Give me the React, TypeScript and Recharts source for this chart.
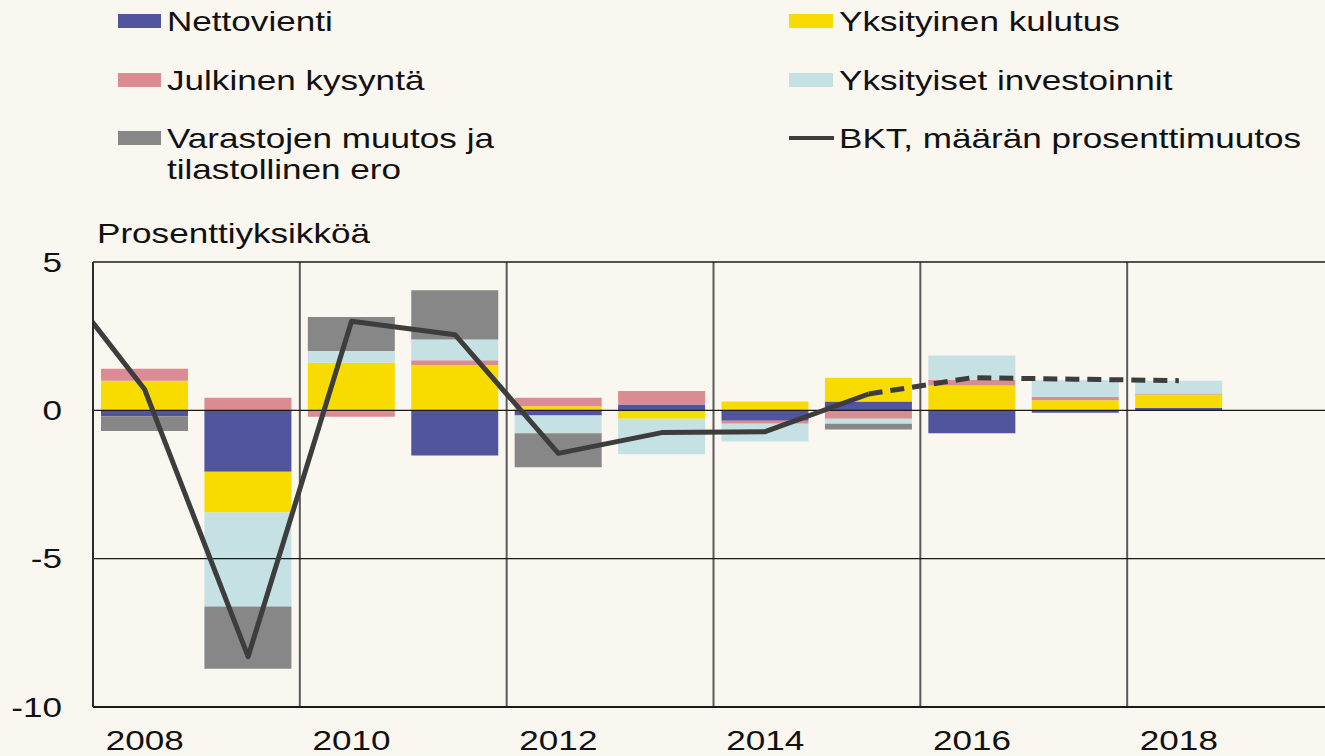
import React from "react";
import {
  ComposedChart,
  Bar,
  Line,
  XAxis,
  YAxis,
  ReferenceLine,
} from "recharts";

const years = [2008, 2009, 2010, 2011, 2012, 2013, 2014, 2015, 2016, 2017, 2018];
const nettovienti = [-0.2, -2.07, 0, -1.52, -0.17, 0.2, -0.35, 0.3, -0.77, -0.08, 0.09];
const kulutus = [1.0, -1.37, 1.6, 1.52, 0.14, -0.28, 0.3, 0.8, 0.84, 0.34, 0.44];
const julkinen = [0.4, 0.42, -0.22, 0.17, 0.28, 0.45, -0.1, -0.28, 0.19, 0.11, 0.04];
const investoinnit = [0, -3.17, 0.4, 0.7, -0.6, -1.2, -0.6, -0.17, 0.82, 0.56, 0.43];
const varastot = [-0.5, -2.1, 1.15, 1.66, -1.15, 0, 0, -0.2, 0, 0, 0];

const bktYears = [2007, 2008, 2009, 2010, 2011, 2012, 2013, 2014, 2015];
const bkt = [5.2, 0.7, -8.3, 3.0, 2.55, -1.45, -0.75, -0.72, 0.55];
const ennusteYears = [2015, 2016, 2017, 2018];
const ennuste = [0.55, 1.1, 1.05, 1.0];

const xTicks = [2008, 2010, 2012, 2014, 2016, 2018];
const yTicks = [5, 0, -5, -10];
const gridX = [2009.5, 2011.5, 2013.5, 2015.5, 2017.5];
const gridY = [5, 0, -5, -10];

const legendLeft = ["Nettovienti", "Julkinen kysyntä", "Varastojen muutos ja", "tilastollinen ero"];
const legendRight = ["Yksityinen kulutus", "Yksityiset investoinnit", "BKT, määrän prosenttimuutos"];
const yTitle = "Prosenttiyksikköä";

const C = {
  blue: "#50559e",
  yellow: "#f8dc00",
  pink: "#da8c92",
  light: "#c5e1e4",
  gray: "#878787",
  line: "#3d3d3d",
  bg: "#faf6f0",
  text: "#111111",
};

const FONT = "'Liberation Sans', Arial, sans-serif";
const SX = 1.3;

const barData = years.map((y, i) => ({
  year: y,
  nettovienti: nettovienti[i],
  kulutus: kulutus[i],
  julkinen: julkinen[i],
  investoinnit: investoinnit[i],
  varastot: varastot[i],
}));
const bktData = bktYears.map((y, i) => ({ year: y, bkt: bkt[i] }));
const ennusteData = ennusteYears.map((y, i) => ({ year: y, ennuste: ennuste[i] }));

const XTick = (props: any) => {
  const { x, y, payload } = props;
  return (
    <text
      transform={`translate(${x},${y + 43}) scale(${SX},1)`}
      textAnchor="middle"
      fontSize={27}
      fontFamily={FONT}
      fill={C.text}
    >
      {payload.value}
    </text>
  );
};

const YTick = (props: any) => {
  const { x, y, payload } = props;
  return (
    <text
      transform={`translate(${x},${y + 9.5}) scale(${SX},1)`}
      textAnchor="end"
      fontSize={27}
      fontFamily={FONT}
      fill={C.text}
    >
      {payload.value}
    </text>
  );
};

const T = ({ x, y, children }: any) => (
  <text
    transform={`translate(${x},${y}) scale(${SX},1)`}
    fontSize={27}
    fontFamily={FONT}
    fill={C.text}
  >
    {children}
  </text>
);

export default function App() {
  return (
    <div
      style={{
        position: "absolute",
        left: 0,
        top: 0,
        width: 1325,
        height: 756,
        overflow: "hidden",
        background: C.bg,
      }}
    >
      <ComposedChart
        width={1340}
        height={756}
        data={barData}
        stackOffset="sign"
        margin={{ top: 262, right: 6, bottom: 0, left: 0 }}
      >
        <XAxis
          dataKey="year"
          type="number"
          domain={[2007.5, 2019.5]}
          allowDataOverflow
          ticks={xTicks}
          interval={0}
          height={49}
          axisLine={false}
          tickLine={false}
          tickSize={0}
          tickMargin={0}
          tick={<XTick />}
        />
        <YAxis
          type="number"
          domain={[-10, 5]}
          ticks={yTicks}
          interval={0}
          width={93}
          allowDataOverflow
          axisLine={{ stroke: "#2a2a2a", strokeWidth: 2 }}
          tickLine={false}
          tickSize={0}
          tickMargin={31}
          tick={<YTick />}
        />
        <Bar dataKey="nettovienti" stackId="a" fill={C.blue} barSize={87} isAnimationActive={false} />
        <Bar dataKey="kulutus" stackId="a" fill={C.yellow} barSize={87} isAnimationActive={false} />
        <Bar dataKey="julkinen" stackId="a" fill={C.pink} barSize={87} isAnimationActive={false} />
        <Bar dataKey="investoinnit" stackId="a" fill={C.light} barSize={87} isAnimationActive={false} />
        <Bar dataKey="varastot" stackId="a" fill={C.gray} barSize={87} isAnimationActive={false} />
        {gridX.map((v) => (
          <ReferenceLine key={"gx" + v} x={v} stroke="#5a5a5a" strokeWidth={2} />
        ))}
        {gridY.map((v) => (
          <ReferenceLine key={"gy" + v} y={v} stroke="#1a1a1a" strokeWidth={v === -10 ? 2 : 1.4} />
        ))}
        <Line
          data={bktData}
          dataKey="bkt"
          stroke={C.line}
          strokeWidth={5}
          strokeLinejoin="round"
          dot={false}
          isAnimationActive={false}
        />
        <Line
          data={ennusteData}
          dataKey="ennuste"
          stroke={C.line}
          strokeWidth={5}
          strokeDasharray="14 8"
          dot={false}
          isAnimationActive={false}
        />
      </ComposedChart>
      <svg
        width={1325}
        height={756}
        style={{ position: "absolute", left: 0, top: 0, pointerEvents: "none" }}
      >
        <rect x={118} y={14} width={43} height={14} fill={C.blue} />
        <T x={167} y={31}>{legendLeft[0]}</T>
        <rect x={118} y={73} width={43} height={14} fill={C.pink} />
        <T x={167} y={90}>{legendLeft[1]}</T>
        <rect x={118} y={131} width={43} height={14} fill={C.gray} />
        <T x={167} y={148}>{legendLeft[2]}</T>
        <T x={167} y={179}>{legendLeft[3]}</T>

        <rect x={789} y={14} width={44} height={14} fill={C.yellow} />
        <T x={839} y={31}>{legendRight[0]}</T>
        <rect x={789} y={73} width={44} height={14} fill={C.light} />
        <T x={839} y={90}>{legendRight[1]}</T>
        <line x1={789} x2={834} y1={138} y2={138} stroke={C.line} strokeWidth={4} />
        <T x={839} y={148}>{legendRight[2]}</T>

        <T x={97} y={243}>{yTitle}</T>
      </svg>
    </div>
  );
}
